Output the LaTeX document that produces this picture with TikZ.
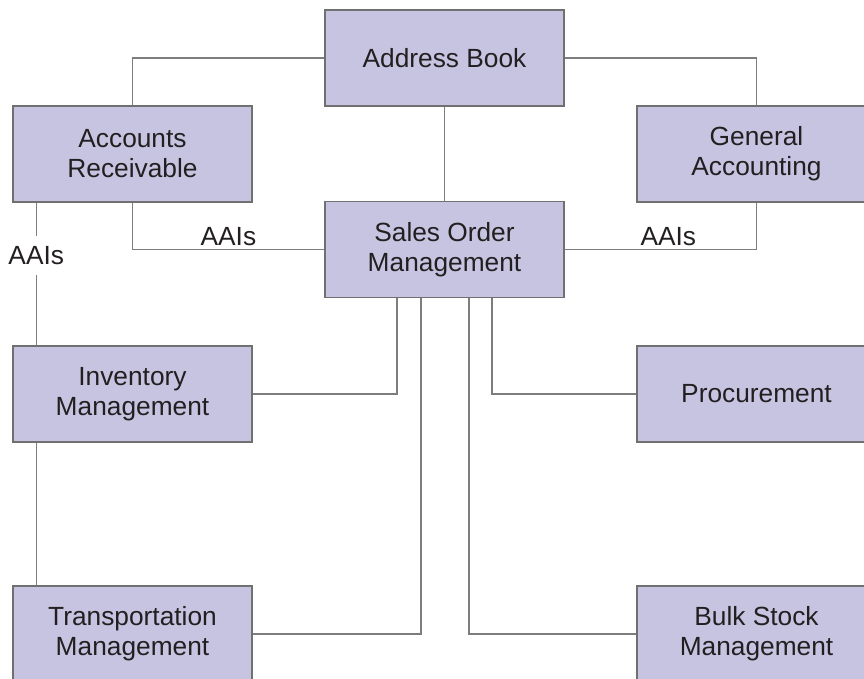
\documentclass[tikz,border=0pt]{standalone}
\usepackage{fontspec}
\setmainfont{Liberation Sans}
\usetikzlibrary{calc}
\definecolor{boxfill}{RGB}{199,196,226}
\definecolor{boxline}{RGB}{112,112,112}
\definecolor{linkgray}{RGB}{125,125,125}
\definecolor{textgray}{RGB}{35,31,32}

\begin{document}
\begin{tikzpicture}[x=1pt,y=-1pt,
    module/.style={draw=boxline,fill=boxfill,line width=1.5pt,minimum width=239pt,
      minimum height=96pt,inner sep=0pt,align=center,text=textgray,
      font=\fontsize{26.3}{30}\selectfont},
    link/.style={draw=linkgray,line width=1.4pt},
    aai/.style={text=textgray,font=\fontsize{26.3}{30}\selectfont,inner sep=3pt}]
      \clip (0,0) rectangle (864,679) ;
      \fill[white] (0,0) rectangle (864,679) ;
      \node[module] (ab) at (444.5,58) {Address Book} ;
      \node[module] (ar) at (132.5,154) {Accounts\\Receivable} ;
      \node[module] (ga) at (756.5,154) {General\\Accounting} ;
      \node[module] (so) at (444.5,249.5) {Sales Order\\Management} ;
      \node[module] (inv) at (132.5,394) {Inventory\\Management} ;
      \node[module] (pr) at (756.5,394) {Procurement} ;
      \node[module] (tr) at (132.5,634) {Transportation\\Management} ;
      \node[module] (bs) at (756.5,634) {Bulk Stock\\Management} ;
      %\draw[very thin, lightgray] (0,0) grid[step=50] (864,679) ;
      \draw[link] (ab.west) -| (ar.north) ;
      \draw[link] (ab.east) -| (ga.north) ;
      \draw[link] (ab.south) -- (so.north) ;
      \draw[link] (ar.south) |- (so.west) node[aai,pos=0.75,above]{AAIs} ;
      \draw[link] (ga.south) |- (so.east) node[aai,pos=0.73,above]{AAIs} ;
      \draw[link] ($(ar.south west)+(24,0)$) -- ($(inv.north west)+(24,0)$)
        node[aai,pos=0.37,fill=white,inner ysep=10pt]{AAIs} ;
      \draw[link] ($(inv.south west)+(24,0)$) -- ($(tr.north west)+(24,0)$) ;
      \draw[link] ($(so.south)+(-47.5,0)$) |- (inv.east) ;
      \draw[link] ($(so.south)+(-23.5,0)$) |- (tr.east) ;
      \draw[link] ($(so.south)+(24.5,0)$) |- (bs.west) ;
      \draw[link] ($(so.south)+(47.5,0)$) |- (pr.west) ;
\end{tikzpicture}
\end{document}
